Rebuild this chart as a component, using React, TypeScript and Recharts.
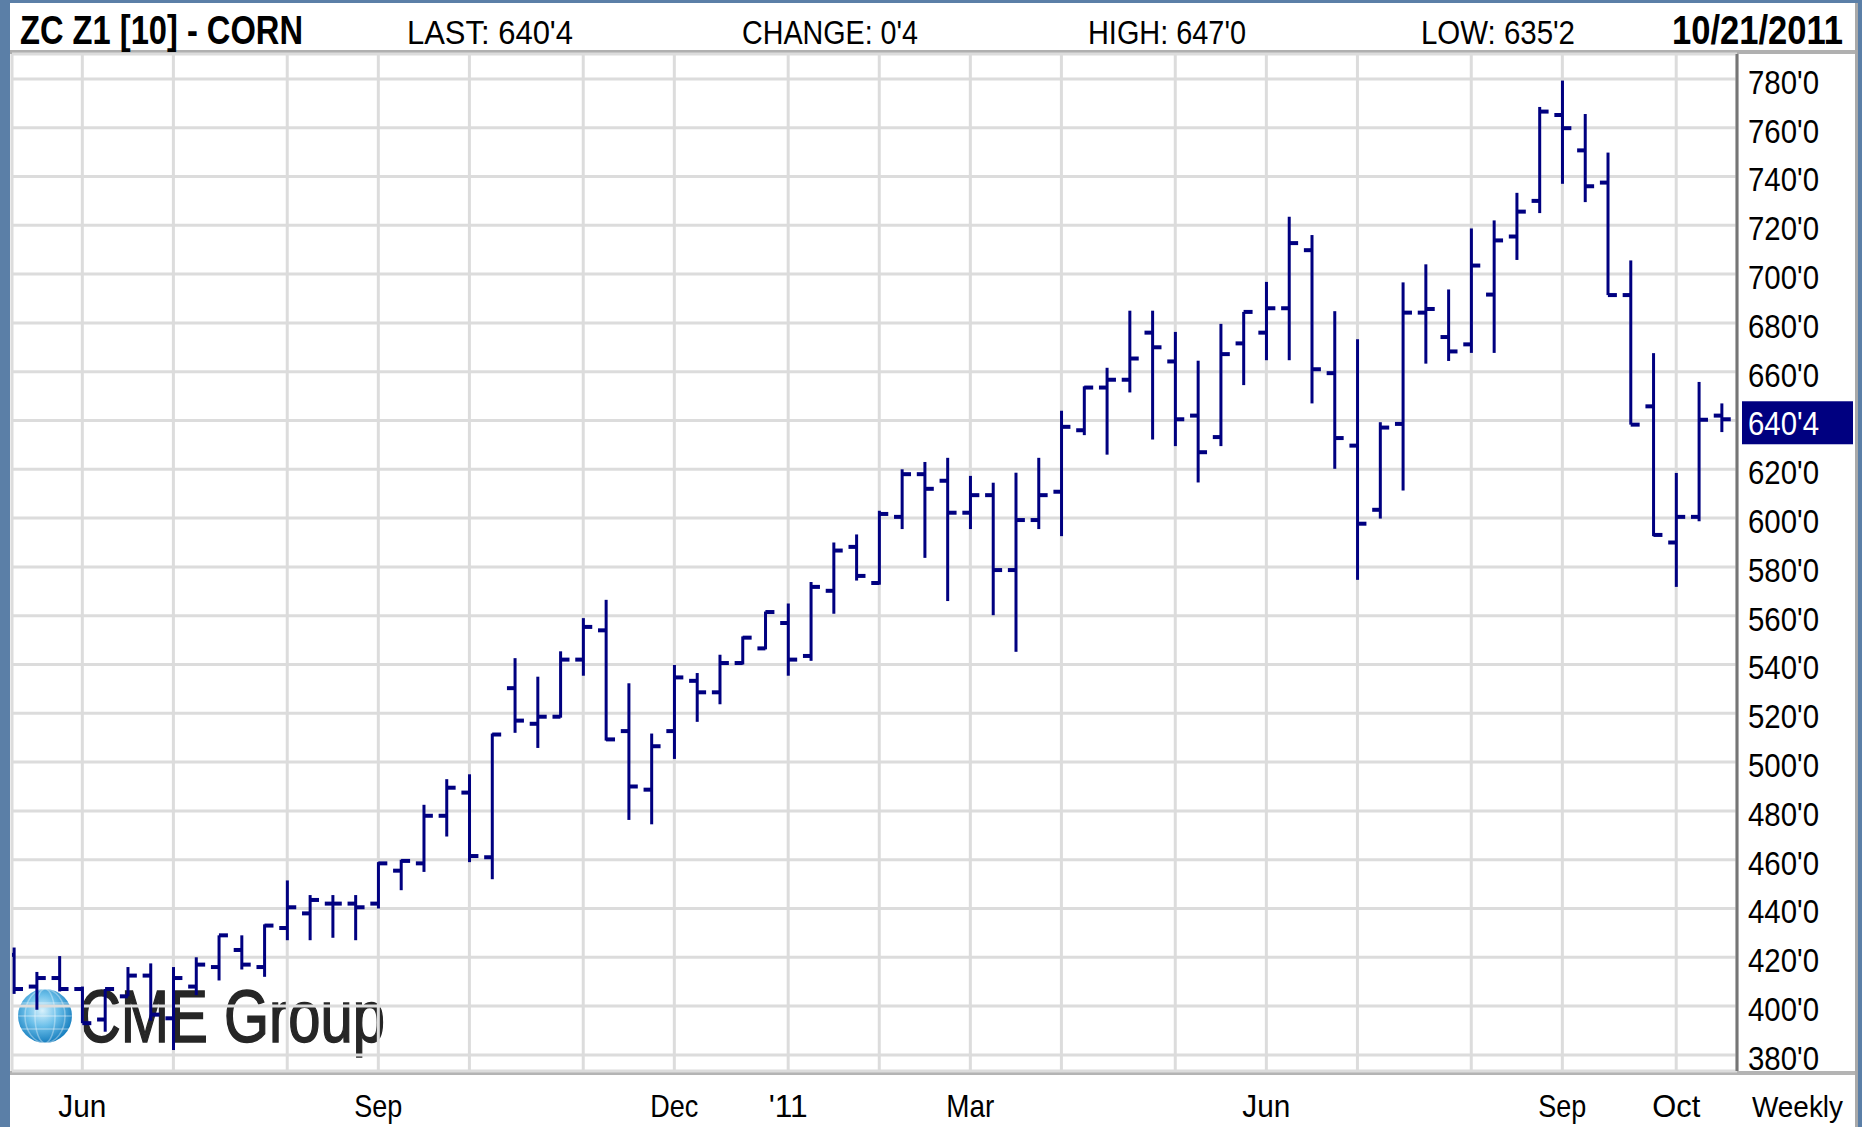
import React from "react";
import {
  ComposedChart,
  Bar,
  Scatter,
  XAxis,
  YAxis,
  CartesianGrid,
  ReferenceLine,
} from "recharts";

// ---- Weekly OHLC, ZC Z1 corn, week of 14 May 2010 .. 21 Oct 2011 ----
const opens = [
  421, 408, 411.5, 407, 394.5, 404, 412.5, 395, 408, 416,
  423, 416, 432, 438, 442, 442, 442, 455.5, 458.5, 478,
  487.5, 461, 530.3, 515.7, 518.6, 542, 554, 512.7, 488.7, 512.7,
  533.3, 528.6, 540.6, 546.6, 557, 543.5, 570.2, 588.2, 573.4, 600.5,
  618, 615.3, 602.2, 609.4, 578.7, 599.2, 610.8, 636, 653.5, 656.7,
  676, 664.2, 642, 633.2, 671.6, 676, 686, 709.8, 659.4, 629.7,
  603.4, 638.6, 684.2, 674.2, 671.2, 691.6, 715.4, 730, 765.2, 750.7,
  737.5, 691.4, 645.8, 590, 600.5, 642,
];
const highs = [
  424, 414, 420.5, 408, 407, 416, 417.5, 416, 420, 429,
  429, 433.5, 451.5, 445.5, 445.5, 445.5, 459, 460, 482.5, 493,
  495, 511.7, 542.6, 535, 545.4, 559, 566.5, 532.3, 511.7, 539.8,
  536.5, 544, 551.5, 561.7, 565, 573.8, 590, 593.3, 603, 620,
  623, 624.7, 617.3, 614.5, 618.6, 624.7, 644, 654, 661.6, 685,
  685, 676.3, 664.5, 679.6, 684.5, 696.8, 723.5, 716, 684.8, 673.3,
  639.3, 696.6, 704, 693.7, 718.7, 722, 733.3, 768.5, 779.3, 765.6,
  749.8, 705.6, 667.6, 618.5, 655.8, 647,
];
const lows = [
  405, 398.5, 406, 393, 389.5, 404, 394, 382, 404.5, 410.5,
  415, 412, 427, 427, 428, 427, 440, 447.5, 455, 469.5,
  459, 452, 512, 505.8, 518.2, 535.4, 508.8, 476.3, 474.5, 501.3,
  516.5, 523.7, 540, 546.2, 535.4, 541.5, 560.8, 574.4, 572.7, 595.5,
  583.7, 566, 595.5, 560.2, 545.2, 595.5, 592.6, 634, 626, 651.5,
  632.2, 629.5, 614.6, 629.5, 654.5, 664.7, 664.7, 647, 620.2, 574.7,
  599.8, 611.3, 663.3, 664.4, 667.7, 667.7, 705.8, 725, 737, 729.5,
  691.4, 638.3, 592.6, 571.8, 598.7, 635.25,
];
const closes = [
  407, 411.5, 407, 393, 407, 412.5, 396.5, 411.5, 417, 429,
  417, 433, 440.5, 443.5, 442, 440.5, 458.5, 459.5, 478, 489.5,
  461.5, 511.3, 517, 518.6, 542, 555.4, 509.3, 490, 506.5, 534.7,
  528.6, 540.6, 551, 561.5, 542, 571.8, 586.7, 576.3, 601.7, 618,
  612, 602.2, 609.4, 578.7, 599.2, 609.4, 637.4, 653.5, 656.7, 665.4,
  670, 640.5, 627, 667.2, 684.5, 686, 712.7, 661, 632.8, 597.7,
  637.1, 684.2, 685.7, 668.3, 703.5, 713.8, 725.6, 766.6, 759.8, 736,
  691.4, 638.3, 593.1, 600.5, 640.3, 640.5,
];

// first week of each month (bar index) and its label
const monthTickIndex = [3, 7, 12, 16, 20, 25, 29, 34, 38, 42, 46, 51, 55, 59, 64, 68, 73];
const monthTickLabels = ["Jun", "", "", "Sep", "", "", "Dec", "'11", "", "Mar", "", "", "Jun", "", "", "Sep", "Oct"];
const priceTicks = [380, 400, 420, 440, 460, 480, 500, 520, 540, 560, 580, 600, 620, 640, 660, 680, 700, 720, 740, 760, 780];

const lastPrice = 640.5;
const headerTitle = "ZC Z1 [10] - CORN";
const headerLast = "LAST: 640'4";
const headerChange = "CHANGE: 0'4";
const headerHigh = "HIGH: 647'0";
const headerLow = "LOW: 635'2";
const headerDate = "10/21/2011";
const periodLabel = "Weekly";

const data = opens.map((o, i) => ({
  i,
  o,
  h: highs[i],
  l: lows[i],
  c: closes[i],
  range: [lows[i], highs[i]],
}));

const NAVY = "#000080";
const FONT = "'Liberation Sans Narrow', 'Liberation Sans', Arial, sans-serif";

function fmtPrice(v: number) {
  const whole = Math.floor(v);
  const eighths = Math.round((v - whole) * 8);
  return `${whole}'${eighths}`;
}

const RangeShape = (p: any) => {
  if (p.x == null || p.height == null) return null;
  const cx = p.x + p.width / 2;
  return <rect x={cx - 1.5} y={p.y} width={3} height={Math.max(p.height, 1)} fill={NAVY} />;
};

const OpenTick = (p: any) => {
  if (p.cx == null || p.cy == null) return null;
  return <rect x={p.cx - 8} y={p.cy - 2} width={8} height={4} fill={NAVY} />;
};

const CloseTick = (p: any) => {
  if (p.cx == null || p.cy == null) return null;
  return <rect x={p.cx} y={p.cy - 2} width={9} height={4} fill={NAVY} />;
};

const XTick = (p: any) => {
  const idx = monthTickIndex.indexOf(p.payload.value);
  const label = idx >= 0 ? monthTickLabels[idx] : "";
  if (!label) return null;
  const w = label.length === 3 && label[0] !== "'" ? 48 : 39;
  return (
    <text
      x={p.x}
      y={1117}
      textAnchor="middle"
      fontFamily={FONT}
      fontSize={32}
      fill="#000"
      textLength={w}
      lengthAdjust="spacingAndGlyphs"
    >
      {label}
    </text>
  );
};

const YTick = (p: any) => {
  const v = p.payload.value;
  if (v === 640) return null; // hidden under the last-price marker
  return (
    <text
      x={1748}
      y={p.y + 15}
      textAnchor="start"
      fontFamily={FONT}
      fontSize={33}
      fill="#000"
      textLength={71}
      lengthAdjust="spacingAndGlyphs"
    >
      {fmtPrice(v)}
    </text>
  );
};

const LastLabel = (p: any) => {
  const vb = p.viewBox;
  if (!vb) return null;
  const y = vb.y;
  return (
    <g>
      <rect x={1742} y={y - 18} width={111} height={43} fill={NAVY} />
      <text
        x={1748}
        y={y + 16}
        fontFamily={FONT}
        fontSize={33}
        fill="#fff"
        textLength={71}
        lengthAdjust="spacingAndGlyphs"
      >
        {fmtPrice(lastPrice)}
      </text>
    </g>
  );
};

const HeaderText = ({ x, text, w, bold, size }: any) => (
  <text
    x={x}
    y={44}
    fontFamily={FONT}
    fontSize={size}
    fontWeight={bold ? "bold" : "normal"}
    fill="#000"
    textLength={w}
    lengthAdjust="spacingAndGlyphs"
  >
    {text}
  </text>
);

export default function App() {
  return (
    <div style={{ position: "absolute", left: 0, top: 0, width: 1862, height: 1127, background: "#5b7fa7", overflow: "hidden" }}>
      <div style={{ position: "absolute", left: 10, top: 3, width: 1845, height: 1124, background: "#fff" }} />
      <div style={{ position: "absolute", left: 1855, top: 3, width: 3, height: 1124, background: "#a9a9a9" }} />
      <div style={{ position: "absolute", left: 10, top: 50, width: 1845, height: 4, background: "#b0b0b0" }} />
      <div style={{ position: "absolute", left: 10, top: 1071, width: 1845, height: 4, background: "#b4b4b4" }} />

      {/* CME Group logo, drawn beneath the chart */}
      <svg width={1862} height={1127} style={{ position: "absolute", left: 0, top: 0 }}>
        <defs>
          <radialGradient id="globe" cx="45%" cy="40%" r="65%">
            <stop offset="0" stopColor="#d8f1fc" />
            <stop offset="0.45" stopColor="#6cc0ea" />
            <stop offset="1" stopColor="#0a74b8" />
          </radialGradient>
        </defs>
        <circle cx={45} cy={1016} r={27} fill="url(#globe)" />
        <g stroke="#ffffff" strokeOpacity={0.35} strokeWidth={1.5} fill="none">
          <ellipse cx={45} cy={1016} rx={10} ry={27} />
          <ellipse cx={45} cy={1016} rx={20} ry={27} />
          <line x1={18} y1={1016} x2={72} y2={1016} />
          <line x1={21} y1={1003} x2={69} y2={1003} />
          <line x1={21} y1={1029} x2={69} y2={1029} />
        </g>
        <text
          x={79}
          y={1042}
          fontFamily="'Liberation Sans', Arial, sans-serif"
          fontSize={74}
          fill="#262626"
          stroke="#262626"
          strokeWidth={1.5}
          textLength={306}
          lengthAdjust="spacingAndGlyphs"
        >
          CME Group
        </text>
      </svg>

      <div style={{ position: "absolute", left: 0, top: 0 }}>
        <ComposedChart
          width={1862}
          height={1127}
          data={data}
          margin={{ top: 54, right: 0, bottom: 0, left: 12 }}
        >
          <CartesianGrid stroke="#dcdcdc" strokeWidth={3} />
          <XAxis
            type="number"
            dataKey="i"
            domain={[-0.088, 75.67]}
            ticks={monthTickIndex}
            interval={0}
            allowDataOverflow
            height={56}
            axisLine={false}
            tickLine={false}
            tickSize={0}
            tickMargin={0}
            tick={<XTick />}
          />
          <YAxis
            orientation="right"
            type="number"
            domain={[373.4, 790.2]}
            ticks={priceTicks}
            interval={0}
            allowDataOverflow
            width={125}
            axisLine={{ stroke: "#767676", strokeWidth: 3 }}
            tickLine={false}
            tickSize={0}
            tickMargin={11}
            tick={<YTick />}
          />
          <Bar dataKey="range" barSize={3} fill={NAVY} shape={RangeShape} isAnimationActive={false} />
          <Scatter dataKey="o" shape={OpenTick} isAnimationActive={false} />
          <Scatter dataKey="c" shape={CloseTick} isAnimationActive={false} />
          <ReferenceLine y={lastPrice} stroke="none" strokeOpacity={0} label={<LastLabel />} />
        </ComposedChart>
      </div>

      <svg width={1862} height={1127} style={{ position: "absolute", left: 0, top: 0, pointerEvents: "none" }}>
        <HeaderText x={20} text={headerTitle} w={283} bold size={40} />
        <HeaderText x={407} text={headerLast} w={166} size={33} />
        <HeaderText x={742} text={headerChange} w={176} size={33} />
        <HeaderText x={1088} text={headerHigh} w={158} size={33} />
        <HeaderText x={1421} text={headerLow} w={154} size={33} />
        <g transform="translate(1672,44) scale(1,1.33)">
          <text
            x={0}
            y={0}
            fontFamily={FONT}
            fontSize={30}
            fontWeight="bold"
            fill="#000"
            textLength={171}
            lengthAdjust="spacingAndGlyphs"
          >
            {headerDate}
          </text>
        </g>
        <text
          x={1752}
          y={1117}
          fontFamily={FONT}
          fontSize={30}
          fill="#000"
          textLength={91}
          lengthAdjust="spacingAndGlyphs"
        >
          {periodLabel}
        </text>
      </svg>
    </div>
  );
}
